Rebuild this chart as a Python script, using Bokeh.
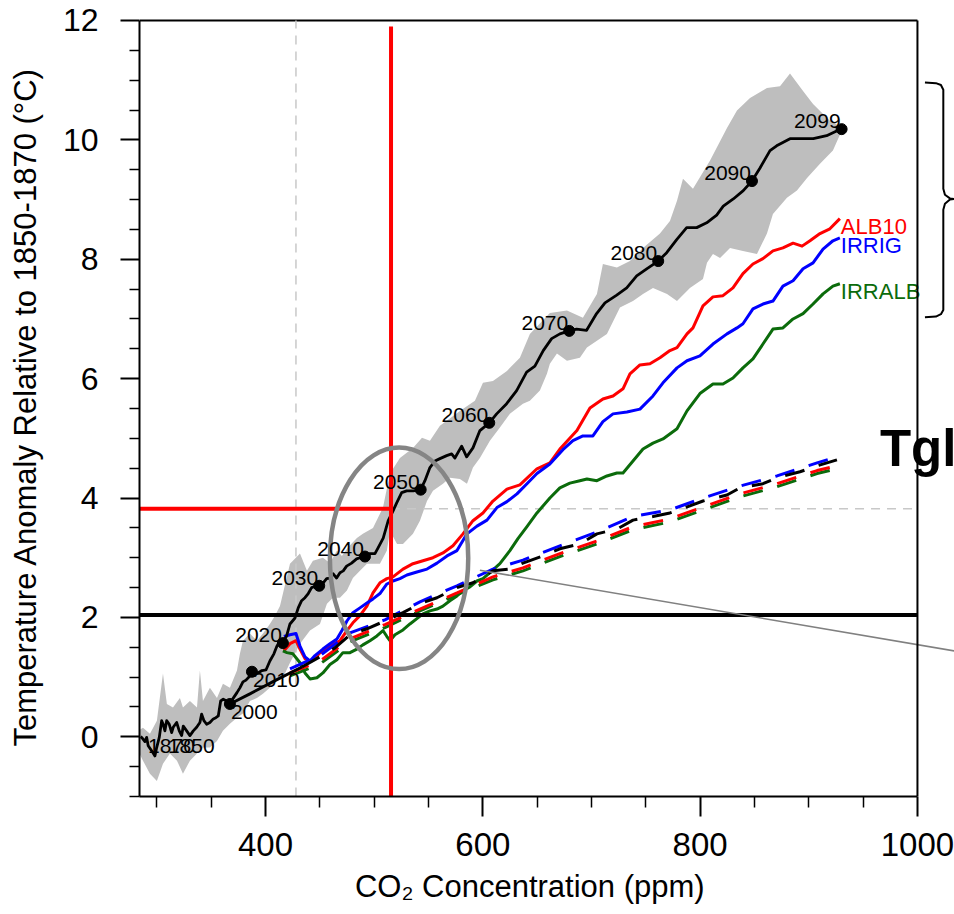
from bokeh.plotting import figure
from bokeh.models import Range1d, FixedTicker
from bokeh.core.properties import value
from bokeh.embed import file_html
from bokeh.resources import INLINE

FONT = "Liberation Sans"

# ---------------- axes ----------------
x_major = [400, 600, 800, 1000]
x_minor = [300, 350, 450, 500, 550, 650, 700, 750, 850, 900, 950]
y_major = [0, 2, 4, 6, 8, 10, 12]
y_minor = [-1, -0.5, 0.5, 1, 1.5, 2.5, 3, 3.5, 4.5, 5, 5.5, 6.5, 7, 7.5,
           8.5, 9, 9.5, 10.5, 11, 11.5]

# ---------------- main (black) run: CO2 (ppm) vs temperature anomaly ----------------
main_co2 = [285.0, 286.0, 289.0, 290.6, 292.0, 294.2, 296.1, 298.2, 299.8, 302.2,
            304.4, 305.8, 307.4, 309.0, 311.4, 313.6, 315.0, 318.2, 320.6, 322.8,
            324.3, 327.4, 330.4, 333.5, 336.6, 339.6, 341.2, 343.3, 345.8, 348.8,
            351.9, 354.3, 356.5, 358.7, 361.1, 364.2, 367.2,
            370.0, 373.7, 376.4, 379.2, 382.0, 385.6, 387.5, 393.0, 396.7, 400.4,
            404.0, 407.7, 410.5, 413.3, 416.0,
            419.4, 422.5, 427.1, 430.1, 433.2, 436.3, 439.3, 442.4, 447.0, 449.4,
            453.1, 456.2, 459.3, 462.3, 465.4, 468.5, 471.5, 474.6, 479.2, 483.8,
            486.9, 491.5,
            496.1, 500.7, 503.7, 508.3, 512.9, 517.5, 520.7, 525.3, 529.9, 535.9, 542.8,
            546.7, 551.3, 555.9, 560.5, 566.7, 571.3, 574.3, 580.5, 585.1, 590.9, 597.3, 605.9,
            612.7, 621.9, 631.1, 640.3, 647.9, 655.6, 663.3, 670.9, 679.5,
            686.3, 695.5, 704.7, 712.4, 723.2, 732.4, 741.6, 750.8, 761.4,
            769.2, 778.4, 787.6, 796.8, 806.0, 815.2, 821.3, 830.5, 839.7, 847.7,
            855.1, 864.3, 870.4, 882.7, 891.9, 904.1, 916.4, 925.6, 930.2]
main_temp = [0.00, -0.01, -0.08, -0.01, -0.15, -0.21, -0.26, -0.32, -0.18, -0.01,
             0.27, 0.21, 0.10, 0.27, 0.21, 0.07, 0.16, 0.24, 0.10, 0.02,
             0.18, 0.10, 0.02, 0.10, 0.16, 0.24, 0.38, 0.27, 0.21, 0.24,
             0.30, 0.32, 0.35, 0.60, 0.63, 0.60, 0.55,
             0.64, 0.74, 0.82, 0.92, 0.95, 1.02, 1.09, 1.07, 1.11, 1.12,
             1.27, 1.39, 1.52, 1.61, 1.57,
             1.69, 1.89, 1.99, 2.16, 2.28, 2.33, 2.40, 2.50, 2.53, 2.53,
             2.58, 2.65, 2.66, 2.73, 2.66, 2.75, 2.78, 2.86, 2.91, 2.98,
             3.00, 3.02,
             3.07, 3.07, 3.17, 3.33, 3.62, 3.79, 3.92, 4.09, 4.12, 4.12, 4.14,
             4.29, 4.51, 4.62, 4.66, 4.71, 4.74, 4.67, 4.87, 4.69, 4.84, 5.13, 5.26,
             5.41, 5.58, 5.80, 6.11, 6.21, 6.47, 6.67, 6.75, 6.80,
             6.83, 6.81, 7.09, 7.27, 7.40, 7.52, 7.72, 7.84, 7.97,
             8.11, 8.33, 8.53, 8.53, 8.61, 8.74, 8.89, 9.01, 9.15, 9.31,
             9.53, 9.82, 9.90, 10.02, 10.02, 10.02, 10.07, 10.15, 10.18]

# spread (grey band) upper / lower edges
up_co2 = [282.6, 287.2, 293.6, 300.0, 305.6, 309.2, 314.8, 321.2, 324.0, 330.4,
          336.9, 339.6, 342.4, 348.8, 355.3, 360.8, 367.2, 373.7, 376.4, 379.2,
          385.6, 392.1, 397.6, 404.0, 408.7, 413.3, 422.5, 431.7, 438.1, 443.6,
          452.8, 459.3, 465.7, 470.3, 475.8, 484.1, 489.6, 498.9, 508.1, 514.5,
          523.7, 535.7, 544.0, 551.3, 560.5, 578.9, 592.7, 600.1, 609.3, 622.2,
          634.1, 643.3, 661.7, 677.4, 692.1, 705.0, 710.5, 723.4, 735.4, 747.4,
          763.0, 772.2, 778.7, 784.2, 793.4, 809.0, 824.7, 833.9, 845.9, 861.5,
          873.5, 882.7, 894.7, 903.9, 919.4, 931.4]
up_temp = [0.10, 0.15, 0.05, 0.27, 1.06, 0.55, 0.49, 0.65, 0.49, 0.60,
           0.49, 1.11, 0.60, 0.82, 0.65, 0.89, 0.82, 1.11, 1.39, 1.61,
           1.73, 1.61, 1.73, 1.89, 2.03, 2.19, 2.90, 3.07, 2.78, 2.95,
           3.00, 2.91, 3.12, 3.03, 3.17, 3.33, 3.40, 3.50, 3.84, 4.41,
           4.67, 4.84, 5.01, 4.96, 5.21, 5.46, 5.63, 5.93, 5.96, 6.13,
           6.35, 6.75, 7.10, 7.14, 7.02, 7.42, 7.92, 7.86, 7.97, 8.19,
           8.43, 8.64, 8.98, 9.35, 9.18, 9.65, 10.20, 10.49, 10.70, 10.87,
           10.90, 11.11, 10.82, 10.60, 10.32, 10.20]
lo_co2 = [282.6, 287.2, 293.6, 300.0, 305.6, 312.0, 318.5, 324.0, 330.4, 336.9,
          342.4, 348.8, 355.3, 360.8, 367.2, 373.7, 379.2, 385.6, 392.1, 397.6,
          404.0, 410.5, 416.0, 422.5, 431.7, 440.9, 450.1, 456.5, 462.0, 468.5,
          474.9, 480.4, 486.9, 493.3, 505.3, 511.7, 514.5, 521.0, 526.5, 535.7,
          542.1, 548.6, 554.1, 563.3, 569.7, 578.9, 585.4, 590.9, 597.3, 606.5,
          615.7, 624.9, 636.9, 643.3, 652.5, 659.0, 661.7, 668.2, 677.4, 689.3,
          695.8, 714.2, 726.2, 738.2, 747.4, 756.6, 769.5, 778.7, 790.6, 802.6,
          806.3, 811.8, 818.3, 827.5, 839.4, 852.3, 861.5, 867.0, 879.9, 889.1,
          898.4, 910.3, 922.2, 931.4]
lo_temp = [-0.23, -0.40, -0.62, -0.74, -0.45, -0.28, -0.40, -0.62, -0.40, -0.28,
           -0.18, -0.18, -0.07, 0.10, 0.22, 0.32, 0.39, 0.60, 0.65, 0.72,
           0.82, 0.94, 0.99, 1.24, 1.56, 1.78, 1.89, 2.23, 2.33, 2.33,
           2.45, 2.66, 2.78, 2.90, 2.90, 3.12, 3.45, 3.23, 3.23, 3.40,
           3.62, 3.95, 4.12, 4.24, 4.34, 4.32, 4.24, 4.51, 4.67, 4.96,
           5.18, 5.41, 5.58, 5.63, 5.80, 6.08, 6.25, 6.42, 6.30, 6.35,
           6.52, 6.75, 7.19, 7.30, 7.42, 7.52, 7.42, 7.30, 7.52, 7.67,
           7.94, 8.09, 8.02, 8.19, 8.14, 8.09, 8.43, 8.76, 9.03, 9.15,
           9.36, 9.60, 9.82, 10.20]

# year markers on the main run
mark_year = ["2000", "2010", "2020", "2030", "2040", "2050", "2060", "2070", "2080", "2090", "2099"]
mark_co2 = [367.2, 387.5, 416.0, 449.4, 491.5, 542.8, 605.9, 679.5, 761.4, 847.7, 930.2]
mark_temp = [0.55, 1.09, 1.57, 2.53, 3.02, 4.14, 5.26, 6.80, 7.97, 9.31, 10.18]
hist_year = ["1870", "1850"]
hist_co2 = [291.0, 309.2]
hist_temp = [-0.02, -0.02]

# ---------------- experiments (solid) ----------------
red_co2 = [416.9, 422.5, 428.0, 431.7, 436.3, 440.9, 445.5, 450.1, 459.3, 468.5,
           474.9, 480.4, 486.9, 493.3, 498.9, 505.3, 511.7, 517.3, 526.5, 535.7,
           544.9, 554.1, 563.3, 572.5, 581.7, 590.9, 600.1, 609.3, 622.2, 634.1,
           649.8, 661.7, 670.9, 686.6, 698.6, 710.5, 719.8, 729.0, 735.4, 744.6,
           753.8, 763.0, 772.2, 778.7, 787.9, 793.4, 802.6, 811.8, 821.0, 830.2,
           839.4, 848.6, 857.8, 867.0, 876.2, 885.5, 893.8, 901.1, 910.3, 919.4, 928.6]
red_temp = [1.44, 1.56, 1.61, 1.47, 1.31, 1.27, 1.32, 1.41, 1.52, 1.61,
            1.78, 1.91, 2.03, 2.19, 2.41, 2.58, 2.65, 2.68, 2.81, 2.90,
            2.95, 3.00, 3.08, 3.20, 3.40, 3.62, 3.75, 3.95, 4.15, 4.22,
            4.49, 4.59, 4.82, 5.13, 5.51, 5.66, 5.71, 5.83, 6.08, 6.23,
            6.25, 6.35, 6.47, 6.52, 6.75, 6.85, 7.22, 7.37, 7.39, 7.52,
            7.76, 7.92, 8.01, 8.14, 8.19, 8.27, 8.22, 8.31, 8.43, 8.51, 8.68]
blue_co2 = [416.9, 422.5, 428.0, 431.7, 436.3, 440.9, 445.5, 452.8, 459.3, 465.7,
            470.3, 474.9, 480.4, 486.9, 493.3, 498.9, 505.3, 511.7, 517.3, 523.7,
            530.1, 539.3, 548.6, 557.8, 567.0, 576.2, 585.4, 594.6, 603.8, 613.0,
            622.2, 631.4, 640.6, 649.8, 661.7, 673.7, 682.9, 692.1, 701.3, 710.5,
            719.8, 732.6, 744.6, 756.6, 765.8, 778.7, 787.9, 799.8, 811.8, 824.7,
            833.9, 839.4, 848.6, 857.8, 867.0, 876.2, 885.5, 894.7, 903.9, 913.1,
            922.2, 928.6]
blue_temp = [1.68, 1.71, 1.73, 1.52, 1.34, 1.27, 1.36, 1.47, 1.56, 1.64,
             1.78, 1.94, 2.08, 2.16, 2.24, 2.31, 2.40, 2.56, 2.61, 2.65,
             2.71, 2.76, 2.81, 2.91, 3.03, 3.12, 3.40, 3.53, 3.63, 3.84,
             3.94, 4.07, 4.24, 4.41, 4.57, 4.81, 4.96, 5.04, 5.04, 5.28,
             5.41, 5.44, 5.49, 5.71, 5.93, 6.18, 6.30, 6.38, 6.58, 6.75,
             6.85, 6.92, 7.17, 7.25, 7.30, 7.55, 7.64, 7.84, 7.94, 8.17,
             8.31, 8.36]
green_co2 = [416.0, 419.7, 425.2, 431.7, 436.3, 440.9, 447.3, 452.8, 459.3, 465.7,
             471.2, 477.7, 484.1, 489.6, 496.1, 502.5, 508.1, 511.7, 514.5, 519.1,
             526.5, 532.9, 539.3, 544.9, 551.3, 557.8, 563.3, 569.7, 576.2, 581.7,
             588.1, 594.6, 600.1, 606.5, 615.7, 624.9, 632.3, 640.6, 649.8, 661.7,
             670.9, 680.1, 689.3, 695.8, 705.0, 714.2, 723.4, 729.0, 738.2, 747.4,
             756.6, 765.8, 778.7, 787.9, 799.8, 811.8, 821.0, 830.2, 839.4, 848.6,
             857.8, 867.0, 876.2, 885.5, 894.7, 903.9, 913.1, 922.2, 928.6]
green_temp = [1.44, 1.41, 1.39, 1.24, 1.07, 0.97, 0.99, 1.07, 1.21, 1.29,
              1.41, 1.41, 1.47, 1.54, 1.61, 1.69, 1.78, 1.68, 1.61, 1.71,
              1.79, 1.89, 1.98, 2.06, 2.11, 2.14, 2.19, 2.28, 2.36, 2.45,
              2.51, 2.61, 2.65, 2.75, 2.90, 3.12, 3.32, 3.52, 3.75, 4.00,
              4.17, 4.25, 4.29, 4.32, 4.29, 4.37, 4.42, 4.42, 4.62, 4.82,
              4.92, 4.99, 5.16, 5.46, 5.75, 5.91, 5.91, 6.01, 6.18, 6.33,
              6.58, 6.83, 6.85, 7.00, 7.09, 7.25, 7.42, 7.55, 7.59]

# ---------------- dashed runs ----------------
dblack_co2 = [367.2, 385.6, 408.7, 433.5, 450.1, 463.9, 477.7, 493.3, 509.9, 526.5,
              542.1, 557.8, 576.2, 590.9, 609.3, 624.9, 636.9, 655.3, 670.9, 689.3,
              705.0, 723.4, 738.2, 756.6, 772.2, 790.6, 802.6, 824.7, 836.7, 857.8,
              870.7, 891.9, 907.6, 925.9]
dblack_temp = [0.55, 0.72, 0.94, 1.17, 1.34, 1.49, 1.71, 1.81, 1.94, 2.08,
               2.23, 2.33, 2.50, 2.58, 2.78, 2.81, 2.91, 3.03, 3.15, 3.23,
               3.40, 3.48, 3.63, 3.69, 3.75, 3.87, 3.95, 4.05, 4.17, 4.24,
               4.34, 4.44, 4.54, 4.64]
dcol_co2 = [422.5, 450.1, 477.7, 509.9, 542.1, 576.2, 609.3, 636.9, 670.9, 705.0,
            738.2, 772.2, 802.6, 836.7, 870.7, 907.6, 925.9]
dblue_temp = [1.14, 1.36, 1.74, 1.96, 2.26, 2.53, 2.81, 2.96, 3.20, 3.43,
              3.69, 3.80, 4.00, 4.20, 4.37, 4.59, 4.69]
dred_temp = [1.07, 1.27, 1.64, 1.88, 2.14, 2.41, 2.68, 2.83, 3.07, 3.28,
             3.52, 3.65, 3.85, 4.07, 4.24, 4.46, 4.54]
dgreen_temp = [1.02, 1.22, 1.59, 1.83, 2.11, 2.38, 2.63, 2.78, 3.02, 3.23,
               3.47, 3.60, 3.80, 4.02, 4.19, 4.41, 4.49]

# ---------------- reference values / annotations ----------------
co2_now = 428.0          # dashed grey vertical
co2_cross = 515.5        # red vertical
t_cross = 3.82           # red / dashed grey horizontal
t_limit = 2.04           # black horizontal
ell_co2, ell_temp, ell_w, ell_h = 522.9, 2.99, 127.3, 3.71
pointer_co2 = [597.3, 1040.0]
pointer_temp = [2.79, 1.42]
brace_co2 = [1006.9, 1017.0, 1021.6, 1023.8, 1023.8, 1025.3, 1029.9, 1033.6,
             1029.9, 1025.3, 1023.8, 1023.8, 1021.6, 1017.0, 1006.9]
brace_temp = [10.96, 10.95, 10.92, 10.84, 9.18, 9.08, 9.02, 9.01,
              9.00, 8.93, 8.83, 7.15, 7.08, 7.04, 7.03]
big_label = "Tgl"
big_label_co2, big_label_temp = 965.5, 4.54

RED, BLUE, GREEN = "#ff0000", "#0000ff", "#0b6b0b"
SHADE = "#bebebe"
NB = "\u00a0"

p = figure(width=954, height=914,
           x_range=Range1d(284, 1034.1), y_range=Range1d(-1, 12.05),
           output_backend="svg", toolbar_location=None,
           min_border_left=139, min_border_right=0,
           min_border_top=17, min_border_bottom=118)
p.outline_line_color = None
p.grid.visible = False
p.background_fill_color = "white"
p.border_fill_color = "white"

# axes
for ax in (p.xaxis[0], p.yaxis[0]):
    ax.axis_line_width = 2
    ax.axis_line_color = "black"
    ax.major_tick_line_color = "black"
    ax.minor_tick_line_color = "black"
    ax.major_tick_line_width = 2
    ax.minor_tick_line_width = 1.5
    ax.major_tick_in = 0
    ax.minor_tick_in = 0
    ax.major_label_text_font = FONT
    ax.major_label_text_color = "black"
    ax.axis_label_text_font = FONT
    ax.axis_label_text_color = "black"
    ax.axis_label_text_font_style = "normal"

xa = p.xaxis[0]
xa.ticker = FixedTicker(ticks=x_major, minor_ticks=x_minor)
xa.bounds = (284, 1000)
xa.major_tick_out = 20
xa.minor_tick_out = 11
xa.major_label_text_font_size = "33px"
xa.major_label_standoff = 16
xa.axis_label = "CO\u2082 Concentration (ppm)" + NB * 4
xa.axis_label_text_font_size = "31px"
xa.axis_label_standoff = 10

ya = p.yaxis[0]
ya.ticker = FixedTicker(ticks=y_major, minor_ticks=y_minor)
ya.bounds = (-1, 12)
ya.major_tick_out = 19
ya.minor_tick_out = 10
ya.major_label_text_font_size = "32px"
ya.major_label_standoff = 22
ya.axis_label = "Temperature Anomaly Relative to 1850-1870 (\u00b0C)"
ya.axis_label_text_font_size = "31px"
ya.axis_label_standoff = 17

# frame top
p.line([284, 1000], [12, 12], line_color="black", line_width=2)

# grey spread
p.patch(up_co2 + lo_co2[::-1], up_temp + lo_temp[::-1],
        fill_color=SHADE, line_color=None)

# dashed grey reference lines
p.line([co2_now, co2_now], [-1, 12], line_color="#c8c8c8", line_width=1.5, line_dash="9 7")
p.line([co2_cross, 1000], [t_cross, t_cross], line_color="#c8c8c8", line_width=1.5, line_dash="9 7")

# solid experiment lines
p.line(red_co2, red_temp, line_color=RED, line_width=3, line_join="round")
p.line(blue_co2, blue_temp, line_color=BLUE, line_width=3, line_join="round")
p.line(green_co2, green_temp, line_color=GREEN, line_width=3, line_join="round")

# dashed runs
p.line(dcol_co2, dgreen_temp, line_color=GREEN, line_width=3, line_dash="20 15")
p.line(dcol_co2, dred_temp, line_color=RED, line_width=3, line_dash="20 15")
p.line(dcol_co2, dblue_temp, line_color=BLUE, line_width=3, line_dash="20 15")
p.line(dblack_co2[:4], dblack_temp[:4], line_color="black", line_width=3)
p.line(dblack_co2[3:], dblack_temp[3:], line_color="black", line_width=3, line_dash="20 15")

# main run
p.line(main_co2, main_temp, line_color="black", line_width=2.8, line_join="round")
p.scatter(mark_co2, mark_temp, size=11, color="black")

# threshold lines
p.line([284, 1000], [t_limit, t_limit], line_color="black", line_width=4)
p.line([284, co2_cross], [t_cross, t_cross], line_color=RED, line_width=4)
p.line([co2_cross, co2_cross], [-1, 11.9], line_color=RED, line_width=4)

# ellipse & pointer
p.ellipse([ell_co2], [ell_temp], width=ell_w, height=ell_h,
          fill_color=None, line_color="#858585", line_width=4.5)
p.line(pointer_co2, pointer_temp, line_color="#808080", line_width=1.5)

# year labels
p.text(mark_co2[:2], mark_temp[:2], text=mark_year[:2], text_font=value(FONT),
       text_font_size=value("21px"), text_align="left", text_baseline="alphabetic",
       x_offset=1, y_offset=8, text_color="black")
p.text(hist_co2, hist_temp, text=hist_year, text_font=value(FONT),
       text_font_size=value("21px"), text_align="left", text_baseline="alphabetic",
       x_offset=1, y_offset=8, text_color="black")
p.text(mark_co2[2:], mark_temp[2:], text=mark_year[2:], text_font=value(FONT),
       text_font_size=value("21px"), text_align="right", text_baseline="alphabetic",
       x_offset=-1, y_offset=-8, text_color="black")

# experiment labels at line ends
for cx, ct, name, col in [(red_co2[-1], red_temp[-1], "ALB10", RED),
                          (blue_co2[-1], blue_temp[-1], "IRRIG", BLUE),
                          (green_co2[-1], green_temp[-1], "IRRALB", GREEN)]:
    p.text([cx], [ct], text=[name], text_font=value(FONT), text_font_size=value("22px"),
           text_align="left", text_baseline="alphabetic", x_offset=1, y_offset=8,
           text_color=col)

# brace and big label outside the box
p.line(brace_co2, brace_temp, line_color="black", line_width=2, line_join="round")
p.text([big_label_co2], [big_label_temp], text=[big_label], text_font=value(FONT),
       text_font_size=value("51px"), text_font_style="bold", text_align="left",
       text_baseline="alphabetic", y_offset=-17, text_color="black")
# right border on top of text
p.line([1000, 1000], [-1, 12], line_color="black", line_width=2)

open("out.html", "w").write(file_html(p, INLINE))
